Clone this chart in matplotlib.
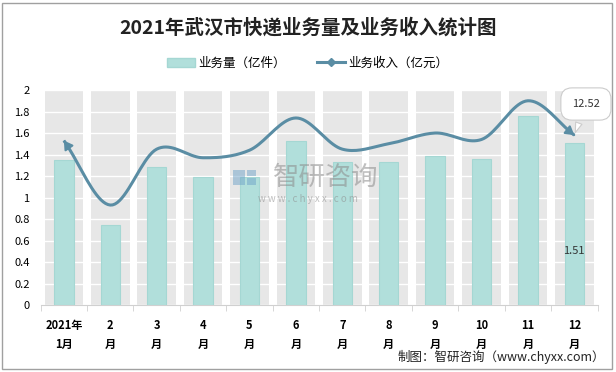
import numpy as np
import matplotlib.pyplot as plt
from matplotlib.lines import Line2D
from matplotlib.patches import Patch, Rectangle

plt.rcParams['font.family'] = ['Noto Sans CJK SC', 'DejaVu Sans']

months = ['2021年\n1月', '2\n月', '3\n月', '4\n月', '5\n月', '6\n月',
          '7\n月', '8\n月', '9\n月', '10\n月', '11\n月', '12\n月']
volume = [1.35, 0.74, 1.28, 1.19, 1.19, 1.53, 1.33, 1.33, 1.39, 1.36, 1.76, 1.51]
income = [1.53, 0.93, 1.45, 1.37, 1.44, 1.74, 1.45, 1.50, 1.60, 1.54, 1.90, 1.58]
last_income_label = '12.52'
last_volume_label = '1.51'
y_max = 2.0

bar_col = '#b1dfdb'
line_col = '#5a8da4'


def smooth(xs, ys, n=20):
    # catmull-rom style smoothing like excel's smoothed line
    xs = np.asarray(xs, float)
    ys = np.asarray(ys, float)
    px = np.concatenate([[2 * xs[0] - xs[1]], xs, [2 * xs[-1] - xs[-2]]])
    py = np.concatenate([[2 * ys[0] - ys[1]], ys, [2 * ys[-1] - ys[-2]]])
    ox, oy = [], []
    for i in range(1, len(px) - 2):
        t = np.linspace(0, 1, n, endpoint=False)
        for arr, out in ((px, ox), (py, oy)):
            p0, p1, p2, p3 = arr[i - 1], arr[i], arr[i + 1], arr[i + 2]
            out.extend(0.5 * (2 * p1 + (-p0 + p2) * t + (2 * p0 - 5 * p1 + 4 * p2 - p3) * t ** 2
                              + (-p0 + 3 * p1 - 3 * p2 + p3) * t ** 3))
    ox.append(xs[-1])
    oy.append(ys[-1])
    return np.array(ox), np.array(oy)


fig = plt.figure(figsize=(6.16, 3.72), dpi=100)
ax = fig.add_axes([0.066, 0.180, 0.904, 0.578])

x = np.arange(len(months))
ax.bar(x, [y_max] * len(x), width=0.83, color='#e7e7e7', zorder=0.5)
ax.bar(x, volume, width=0.42, color=bar_col, edgecolor='#a5d7d3', lw=0.8, zorder=3)

sx, sy = smooth(x, income)
ax.plot(sx, sy, color=line_col, lw=2.2, zorder=4, solid_capstyle='butt')
for a, b in ((1, 0), (-2, -1)):
    ax.annotate('', xy=(sx[b], sy[b]), xytext=(sx[a], sy[a]),
                arrowprops=dict(arrowstyle='-|>,head_length=0.5,head_width=0.3',
                                color=line_col, lw=1.5), zorder=5)

ax.set_xlim(-0.5, len(x) - 0.5)
ax.set_ylim(0, y_max)
ax.set_yticks(np.arange(0, 2.01, 0.2))
ax.set_yticklabels(['0', '0.2', '0.4', '0.6', '0.8', '1', '1.2', '1.4', '1.6', '1.8', '2'])
ax.yaxis.grid(True, color='white', lw=1)
ax.set_axisbelow(False)
ax.set_xticks(x)
ax.set_xticklabels(months, fontweight='bold', fontsize=8, linespacing=1.6)
ax.set_xticks(np.arange(-0.5, len(x)), minor=True)
ax.tick_params(axis='x', which='major', length=0, pad=10)
ax.tick_params(axis='x', which='minor', length=4, color='#d0d0d0')
ax.tick_params(axis='y', length=0, labelsize=8, pad=8)
for s in ['top', 'right', 'left']:
    ax.spines[s].set_visible(False)
ax.spines['bottom'].set_color('#d0d0d0')

ax.annotate(last_income_label, xy=(x[-1], income[-1]), xytext=(x[-1] + 0.25, 1.87),
            ha='center', va='center', fontsize=8, color='#333333',
            bbox=dict(boxstyle='round,pad=1.0', fc='white', ec='#cccccc', lw=0.8),
            arrowprops=dict(arrowstyle='wedge,tail_width=0.6', fc='white', ec='#cccccc', lw=0.8),
            zorder=6, annotation_clip=False)
ax.text(x[-1], 0.5, last_volume_label, ha='center', va='center', fontsize=8,
        color='#333333', zorder=6)

# watermark
ax.text(5.65, 1.19, '智研咨询', ha='center', va='center', fontsize=19,
        color='#8c8c8c', alpha=0.55, zorder=5)
ax.text(5.25, 0.99, 'w w w . c h y x x . c o m', ha='center', va='center', fontsize=7,
        color='#8c8c8c', alpha=0.55, zorder=5)
for rx, ry, rw, rh in ((0.345, 0.56, 0.022, 0.07), (0.37, 0.60, 0.016, 0.03),
                       (0.37, 0.56, 0.016, 0.03)):
    ax.add_patch(Rectangle((rx, ry), rw, rh, transform=ax.transAxes,
                           color='#6fa3c8', alpha=0.5, zorder=5, lw=0))

fig.text(0.5, 0.925, '2021年武汉市快递业务量及业务收入统计图', ha='center', va='center',
         fontsize=14, fontweight='bold', color='#222222')

handles = [Patch(facecolor=bar_col, edgecolor='#a5d7d3'),
           Line2D([0], [0], color=line_col, lw=2.2, marker='D', markersize=4)]
fig.legend(handles, ['业务量（亿件）', '业务收入（亿元）'], loc='center',
           bbox_to_anchor=(0.5, 0.83), ncol=2, frameon=False, fontsize=9,
           handlelength=2.2, columnspacing=2.5, handletextpad=0.3)

fig.text(0.982, 0.04, '制图：智研咨询（www.chyxx.com）', ha='right', va='center',
         fontsize=9, color='#222222')
fig.add_artist(Rectangle((0.003, 0.008), 0.991, 0.985, transform=fig.transFigure,
                         fill=False, ec='#a0a0a0', lw=1))

fig.savefig('out.png', dpi=100)
